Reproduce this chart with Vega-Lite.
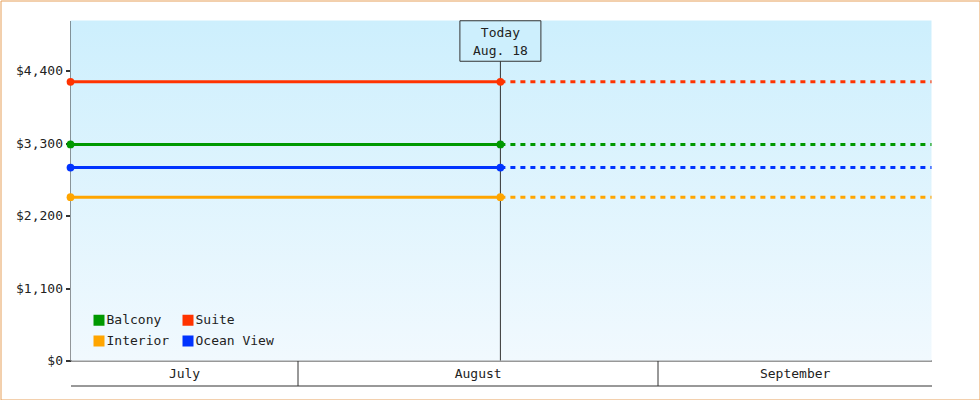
{
  "$schema": "https://vega.github.io/schema/vega-lite/v6.json",
  "width": 979,
  "height": 399,
  "autosize": {"type": "none"},
  "padding": 0.5,
  "background": "#ffffff",
  "config": {
    "view": {"stroke": "#e6a05a", "strokeWidth": 1, "fill": "#ffffff"},
    "font": "DejaVu Sans Mono",
    "axis": {"labelFont": "DejaVu Sans Mono", "labelFontSize": 13, "labelColor": "#222222", "domainColor": "#333333", "tickColor": "#333333", "grid": false}
  },
  "datasets": {
    "prices": [
      {"cabin": "Suite", "date": "2024-07-12T10:52:00Z", "price": 4229, "seg": "past"},
      {"cabin": "Suite", "date": "2024-08-18T11:00:00Z", "price": 4229, "seg": "past"},
      {"cabin": "Suite", "date": "2024-08-18T11:00:00Z", "price": 4229, "seg": "future"},
      {"cabin": "Suite", "date": "2024-09-24T13:39:00Z", "price": 4229, "seg": "future"},
      {"cabin": "Balcony", "date": "2024-07-12T10:52:00Z", "price": 3279, "seg": "past"},
      {"cabin": "Balcony", "date": "2024-08-18T11:00:00Z", "price": 3279, "seg": "past"},
      {"cabin": "Balcony", "date": "2024-08-18T11:00:00Z", "price": 3279, "seg": "future"},
      {"cabin": "Balcony", "date": "2024-09-24T13:39:00Z", "price": 3279, "seg": "future"},
      {"cabin": "Ocean View", "date": "2024-07-12T10:52:00Z", "price": 2929, "seg": "past"},
      {"cabin": "Ocean View", "date": "2024-08-18T11:00:00Z", "price": 2929, "seg": "past"},
      {"cabin": "Ocean View", "date": "2024-08-18T11:00:00Z", "price": 2929, "seg": "future"},
      {"cabin": "Ocean View", "date": "2024-09-24T13:39:00Z", "price": 2929, "seg": "future"},
      {"cabin": "Interior", "date": "2024-07-12T10:52:00Z", "price": 2479, "seg": "past"},
      {"cabin": "Interior", "date": "2024-08-18T11:00:00Z", "price": 2479, "seg": "past"},
      {"cabin": "Interior", "date": "2024-08-18T11:00:00Z", "price": 2479, "seg": "future"},
      {"cabin": "Interior", "date": "2024-09-24T13:39:00Z", "price": 2479, "seg": "future"}
    ],
    "today": [
      {"date": "2024-08-18T11:00:00Z", "label": "Today\nAug. 18"}
    ]
  },
  "resolve": {"axis": {"x": "independent"}, "legend": {"color": "independent"}},
  "layer": [
    {
      "data": {"name": "today"},
      "mark": {"type": "rect", "fill": {"gradient": "linear", "x1": 0, "y1": 0, "x2": 0, "y2": 1, "stops": [{"offset": 0, "color": "#cdeffd"}, {"offset": 1, "color": "#f1f9fe"}]}},
      "encoding": {
        "x": {"datum": {"year": 2024, "month": 7, "date": 12, "hours": 10, "minutes": 52, "utc": true}, "type": "temporal", "axis": null,
              "scale": {"type": "utc", "domain": [{"year": 2024, "month": 7, "date": 12, "hours": 10, "minutes": 52, "utc": true}, {"year": 2024, "month": 9, "date": 24, "hours": 13, "minutes": 39, "utc": true}], "range": [70, 931], "nice": false}},
        "x2": {"datum": {"year": 2024, "month": 9, "date": 24, "hours": 13, "minutes": 39, "utc": true}},
        "y": {"datum": 0, "type": "quantitative", "title": null, "scale": {"domain": [0, 5160], "range": [360, 20], "nice": false, "zero": false}},
        "y2": {"datum": 5160}
      }
    },
    {
      "data": {"name": "today"},
      "mark": {"type": "rule", "color": "#333333", "strokeWidth": 1},
      "encoding": {
        "x": {"field": "date", "type": "temporal", "axis": null, "scale": {"type": "utc"}},
        "y": {"datum": 0, "type": "quantitative", "title": null},
        "y2": {"datum": 5160}
      }
    },
    {
      "data": {"name": "prices"},
      "mark": {"type": "line", "strokeWidth": 3},
      "encoding": {
        "x": {"field": "date", "type": "temporal", "title": null, "scale": {"type": "utc"},
              "axis": {
                "orient": "bottom", "offset": -39, "title": null,
                "values": [
                  {"year": 2024, "month": 7, "date": 22, "hours": 5, "minutes": 25, "utc": true},
                  {"year": 2024, "month": 8, "date": 1, "utc": true},
                  {"year": 2024, "month": 8, "date": 16, "hours": 12, "utc": true},
                  {"year": 2024, "month": 9, "date": 1, "utc": true},
                  {"year": 2024, "month": 9, "date": 12, "hours": 19, "utc": true}
                ],
                "labelExpr": "utcFormat(datum.value, '%d %H') == '01 00' ? '' : utcFormat(datum.value, '%B')",
                "tickSize": {"condition": {"test": "utcFormat(datum.value, '%d %H') == '01 00'", "value": 25}, "value": 0},
                "tickWidth": 1,
                "domainWidth": 1,
                "labelPadding": 7,
                "labelFlush": false,
                "labelOverlap": false,
                "grid": false
              }},
        "y": {"field": "price", "type": "quantitative", "title": null,
              "axis": {"orient": "left", "offset": -70, "values": [0, 1100, 2200, 3300, 4400], "format": "$,d", "domainWidth": 2, "tickWidth": 2, "tickSize": 5, "labelPadding": 3, "grid": false, "title": null}},
        "color": {"field": "cabin", "type": "nominal", "legend": null,
                  "scale": {"domain": ["Balcony", "Suite", "Interior", "Ocean View"], "range": ["#009900", "#ff3300", "#ffa500", "#0033ff"]}},
        "detail": {"field": "seg"},
        "strokeDash": {"field": "seg", "type": "nominal", "legend": null, "scale": {"domain": ["past", "future"], "range": [[1, 0], [5, 5]]}}
      }
    },
    {
      "data": {"name": "prices"},
      "transform": [{"filter": {"field": "seg", "equal": "past"}}],
      "mark": {"type": "point", "filled": true, "opacity": 1, "size": 60, "shape": "circle"},
      "encoding": {
        "x": {"field": "date", "type": "temporal", "scale": {"type": "utc"},
              "axis": {"orient": "bottom", "offset": -14, "ticks": false, "labels": false, "domain": true, "domainColor": "#333333", "domainWidth": 1, "grid": false, "title": null}},
        "y": {"field": "price", "type": "quantitative", "title": null},
        "color": {"field": "cabin", "type": "nominal",
                  "legend": {"orient": "none", "legendX": 92, "legendY": 313, "columns": 2, "direction": "horizontal", "symbolType": "square", "symbolSize": 121, "symbolStrokeWidth": 0,
                             "labelFont": "DejaVu Sans Mono", "labelFontSize": 13, "labelColor": "#222222", "labelOffset": 1, "rowPadding": 7, "columnPadding": 12,
                             "title": null, "padding": 0,
                             "encode": {"symbols": {"update": {"fill": {"scale": "color", "field": "value"}, "strokeWidth": {"value": 0}, "opacity": {"value": 1}}}}}}
      }
    },
    {
      "data": {"name": "today"},
      "mark": {"type": "point", "shape": "M-1,-0.5H1V0.5H-1Z", "size": 6561, "filled": true, "fill": "#cdeffd", "stroke": "#333333", "strokeWidth": 1, "opacity": 1, "yOffset": 20.5},
      "encoding": {
        "x": {"field": "date", "type": "temporal", "axis": null, "scale": {"type": "utc"}},
        "y": {"datum": 5160, "type": "quantitative", "title": null}
      }
    },
    {
      "data": {"name": "today"},
      "mark": {"type": "text", "lineBreak": "\n", "font": "DejaVu Sans Mono", "fontSize": 13, "color": "#222222", "baseline": "middle", "align": "center", "lineHeight": 18, "yOffset": 12},
      "encoding": {
        "x": {"field": "date", "type": "temporal", "axis": null, "scale": {"type": "utc"}},
        "y": {"datum": 5160, "type": "quantitative", "title": null},
        "text": {"field": "label"}
      }
    }
  ]
}
